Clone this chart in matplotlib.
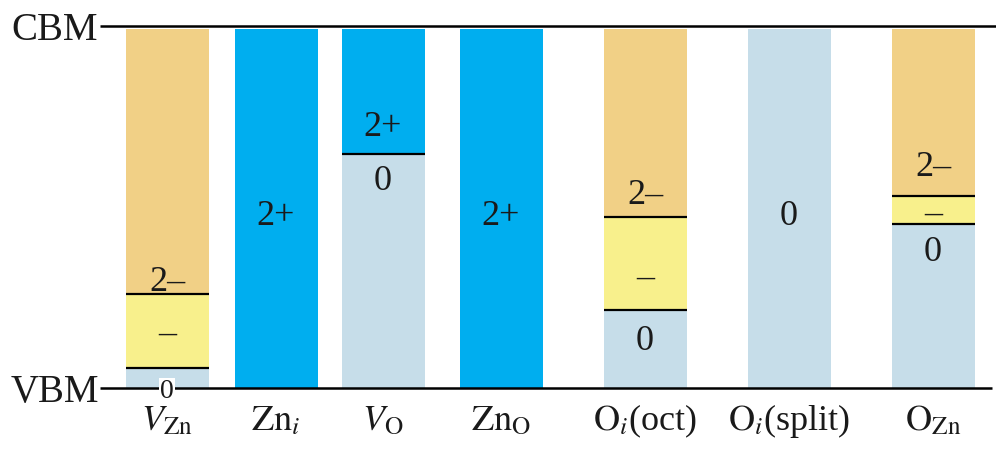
import matplotlib.pyplot as plt

# Dữ liệu: các khuyết tật và mức chuyển tiếp (eV trên VBM)
defects = [r'$V_{\mathrm{Zn}}$', r'$\mathrm{Zn}_i$', r'$V_{\mathrm{O}}$', r'$\mathrm{Zn}_{\mathrm{O}}$',
           r'$\mathrm{O}_i$(oct)', r'$\mathrm{O}_i$(split)', r'$\mathrm{O}_{\mathrm{Zn}}$']
gap = 3.4
levels = [[0.19, 0.88], [], [2.2], [], [0.73, 1.61], [], [1.54, 1.80]]
charges = [['0', '–', '2–'], ['2+'], ['0', '2+'], ['2+'], ['0', '–', '2–'], ['0'], ['0', '–', '2–']]
# vị trí nhãn điện tích (eV)
label_y = [[0.0, 0.54, 1.03], [1.65], [1.98, 2.48], [1.65], [0.47, 1.07, 1.85], [1.65], [1.31, 1.67, 2.11]]

# vị trí cột (không đều như hình gốc)
xpos = [167, 276, 383, 501, 645, 789, 933]
width = 83
colors = {'0': '#c6dde9', '–': '#f8f08c', '2–': '#f1d086', '2+': '#00aeef'}

plt.rcParams['font.family'] = ['Liberation Serif', 'DejaVu Serif']
plt.rcParams['mathtext.fontset'] = 'stix'

fig = plt.figure(figsize=(9.96, 4.54), dpi=100)
ax = fig.add_axes([0, 0, 1, 1])
scale = 362 / gap
ax.set_xlim(0, 996)
ax.set_ylim(-66 / scale, gap + 26 / scale)
ax.axis('off')

top = gap - 3 / scale
for i, x in enumerate(xpos):
    bounds = [0] + levels[i] + [top]
    for k, q in enumerate(charges[i]):
        ax.bar(x, bounds[k + 1] - bounds[k], bottom=bounds[k], width=width,
               color=colors[q], edgecolor='none', zorder=1)
    for lv in levels[i]:
        ax.hlines(lv, x - width / 2, x + width / 2, color='black', lw=1.6, zorder=3)
    for k, q in enumerate(charges[i]):
        kw = {'fontsize': 26}
        if i == 0 and k == 0:
            # số 0 nhỏ nằm đè lên đường VBM
            kw = {'fontsize': 20, 'bbox': dict(facecolor='white', edgecolor='none', pad=0.5)}
        ax.text(x, label_y[i][k], q, ha='center', va='center_baseline',
                color='#1a1a1a', zorder=5, **kw)
    ax.text(x, -42 / scale, defects[i], ha='center', va='baseline', fontsize=26, color='#1a1a1a')

# CBM và VBM
ax.hlines(gap, 100, 996, color='black', lw=1.8, zorder=2)
ax.hlines(0, 100, 992, color='black', lw=1.8, zorder=2)
ax.text(55, gap, 'CBM', ha='center', va='center_baseline', fontsize=28, color='#1a1a1a')
ax.text(55, 0, 'VBM', ha='center', va='center_baseline', fontsize=28, color='#1a1a1a')

fig.savefig('out.png', dpi=100)
